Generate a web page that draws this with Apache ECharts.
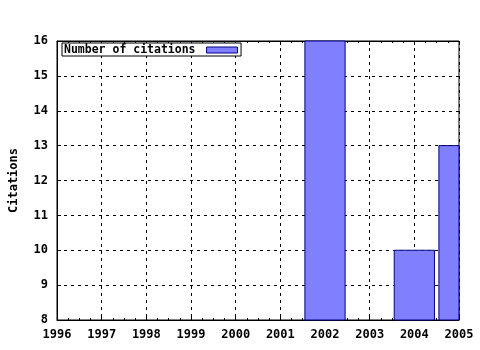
<!DOCTYPE html>
<html>
<head>
<meta charset="utf-8">
<script src="https://cdn.jsdelivr.net/npm/echarts@6/dist/echarts.min.js"></script>
<style>html,body{margin:0;padding:0;background:#fff}#c{width:480px;height:350px}</style>
</head>
<body>
<div id="c"></div>
<script>
const years = [2002, 2004, 2005];
const citations = [16, 10, 13];
const seriesName = 'Number of citations';
const yAxisTitle = 'Citations';

const font = 'DejaVu Sans Mono';
const barHalf = 0.45;
const chart = echarts.init(document.getElementById('c'), null, {renderer: 'canvas'});
const axisText = {color: '#000', fontFamily: font, fontWeight: 'bold', fontSize: 12};
const fill = '#8080ff', edge = '#000080';
chart.setOption({
  animation: false,
  backgroundColor: '#fff',
  grid: {left: 57, right: 21, top: 41, bottom: 30, show: true, borderColor: '#000', borderWidth: 1, backgroundColor: 'transparent'},
  legend: {
    left: 62, top: 43,
    data: [{name: seriesName, icon: 'rect', itemStyle: {color: fill, borderColor: edge, borderWidth: 1}}],
    align: 'right',
    itemWidth: 31, itemHeight: 6, itemGap: 0,
    padding: [1, 3, 0, 2],
    backgroundColor: '#fff',
    borderColor: '#000', borderWidth: 1,
    textStyle: {color: '#000', fontFamily: font, fontWeight: 'bold', fontSize: 11.5, padding: [0, 6, 0, 0]}
  },
  xAxis: [{
    type: 'value', min: 1996, max: 2005, interval: 1,
    axisLine: {show: true, lineStyle: {color: '#000', width: 1}},
    axisTick: {show: true, inside: true, length: 4, lineStyle: {color: '#000'}},
    minorTick: {show: true, splitNumber: 4, length: 2, lineStyle: {color: '#000'}},
    axisLabel: Object.assign({margin: 9, formatter: v => String(v)}, axisText),
    splitLine: {show: true, lineStyle: {color: '#000', type: [3, 4], width: 1}}
  }, {
    type: 'value', min: 1996, max: 2005, interval: 1, position: 'top',
    axisLine: {show: true, lineStyle: {color: '#000'}},
    axisTick: {show: true, inside: true, length: 4, lineStyle: {color: '#000'}},
    minorTick: {show: true, splitNumber: 4, length: 2, lineStyle: {color: '#000'}},
    axisLabel: {show: false}, splitLine: {show: false}
  }],
  yAxis: {
    type: 'value', min: 8, max: 16, interval: 1,
    name: yAxisTitle, nameLocation: 'middle', nameGap: 37,
    nameTextStyle: axisText,
    axisLine: {show: true, lineStyle: {color: '#000', width: 1}},
    axisTick: {show: true, inside: true, length: 4, lineStyle: {color: '#000'}},
    axisLabel: Object.assign({margin: 9}, axisText),
    splitLine: {show: true, lineStyle: {color: '#000', type: [3, 4], width: 1}}
  },
  series: [{
    name: seriesName, type: 'custom', xAxisIndex: 0, yAxisIndex: 0,
    encode: {x: 0, y: 1},
    renderItem: function (params, api) {
      const x = api.value(0), v = api.value(1);
      const p0 = api.coord([x - barHalf, v]);
      const p1 = api.coord([x + barHalf, 8]);
      const shape = echarts.graphic.clipRectByRect(
        {x: p0[0], y: p0[1], width: p1[0] - p0[0], height: p1[1] - p0[1]},
        {x: params.coordSys.x, y: params.coordSys.y, width: params.coordSys.width, height: params.coordSys.height}
      );
      if (!shape) return null;
      return {type: 'rect', shape: shape, style: {fill: fill, stroke: edge, lineWidth: 1}};
    },
    itemStyle: {color: fill, borderColor: edge, borderWidth: 1},
    data: years.map((y, i) => [y, citations[i]])
  }]
});
</script>
</body>
</html>
